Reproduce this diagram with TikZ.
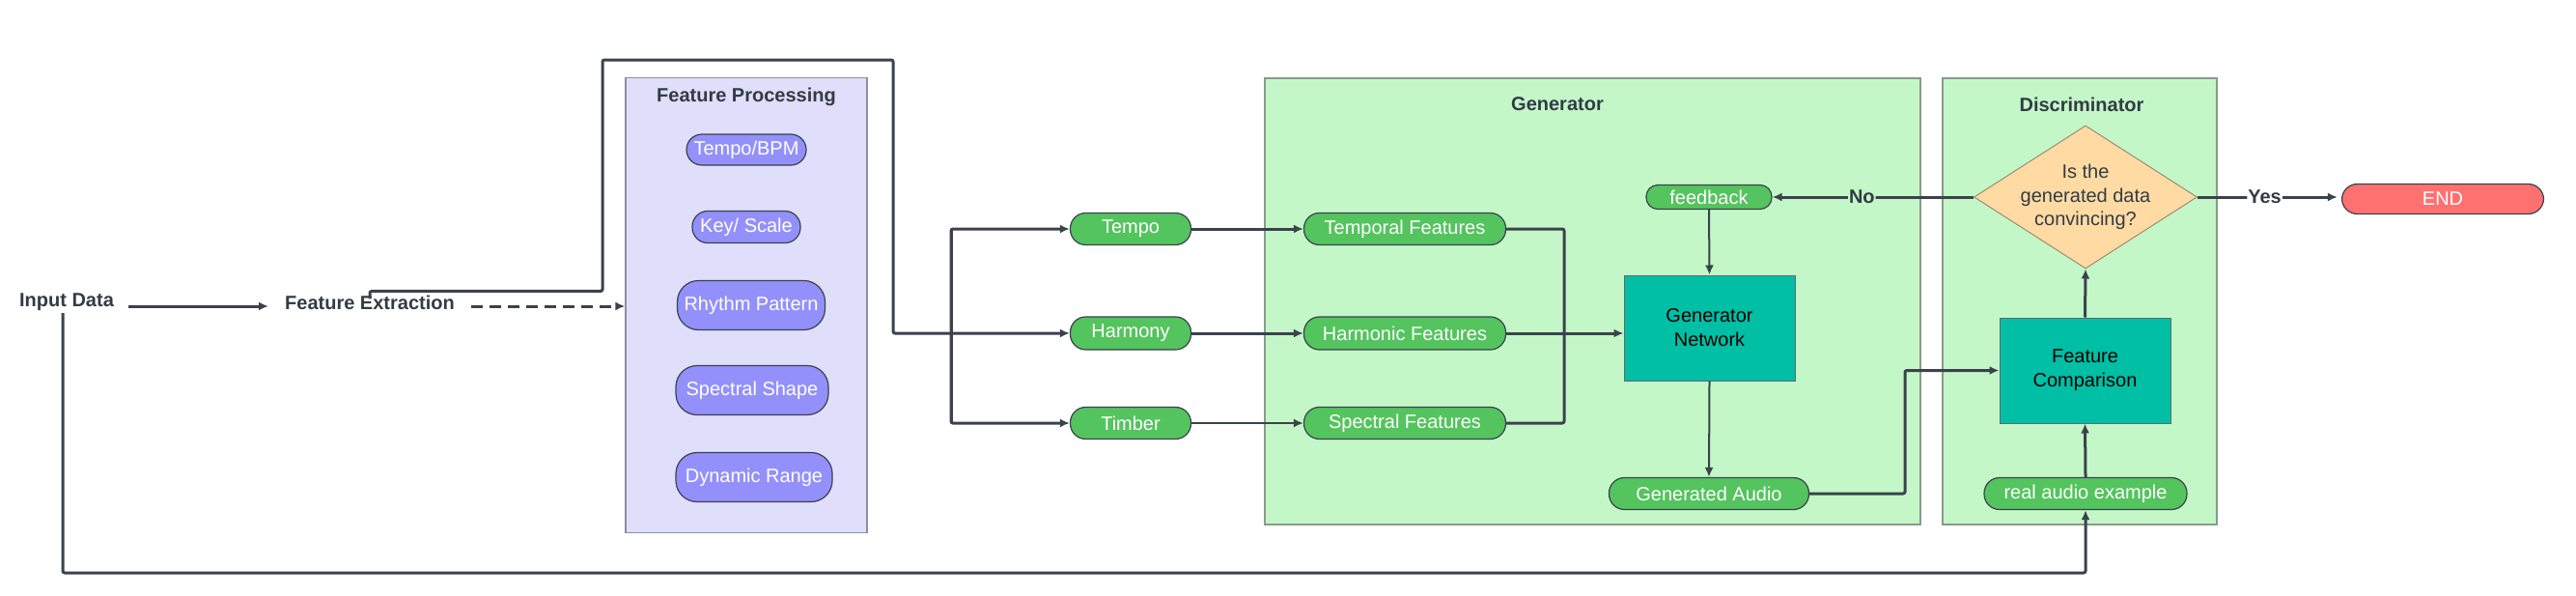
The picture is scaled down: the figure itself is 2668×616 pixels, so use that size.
\documentclass[tikz,border=0pt]{standalone}
\usepackage{fontspec}
\setmainfont{Liberation Sans}
\usetikzlibrary{arrows.meta,shapes.geometric}
\definecolor{ln}{HTML}{3B424C}
\definecolor{fpfill}{HTML}{DFDFFC}
\definecolor{fpborder}{HTML}{8E8E9E}
\definecolor{purp}{HTML}{9390FB}
\definecolor{genfill}{HTML}{C3F7C8}
\definecolor{genborder}{HTML}{8A9A8C}
\definecolor{grn}{HTML}{54C45E}
\definecolor{teal}{HTML}{00BFA5}
\definecolor{dia}{HTML}{FFDBA3}
\definecolor{diaborder}{HTML}{9C8C74}
\definecolor{endc}{HTML}{FF7070}
\definecolor{ttl}{HTML}{333B45}
\tikzset{
  txt/.style={font=\fontsize{20}{24}\selectfont, text=ttl, inner sep=2pt},
  btxt/.style={txt, font=\fontsize{20}{24}\selectfont\bfseries},
  pill/.style={draw=ln, line width=1.2pt, rounded corners=16pt, text=white, inner sep=0pt,
    font=\fontsize{20}{24}\selectfont},
  ppill/.style={pill, fill=purp},
  gpill/.style={pill, fill=grn},
  tbox/.style={draw=ln!80, line width=1pt, fill=teal, text=black, align=center,
    font=\fontsize{20}{25}\selectfont, inner sep=0pt},
  container/.style={line width=1.2pt, inner sep=0pt},
  line/.style={draw=ln, line width=3pt, rounded corners=2pt},
  arr/.style={line, -{Latex[length=10pt,width=9pt]}},
  tarr/.style={arr, line width=2pt},
}
\begin{document}
\begin{tikzpicture}[x=1pt,y=-1pt]
\useasboundingbox[fill=white] (0,0) rectangle (2668,616);
% containers
\node[container, draw=fpborder, fill=fpfill, minimum width=250, minimum height=471] (fp) at (773,316) {};
\node[btxt] (fpt) at (773,100) {Feature Processing};
\node[container, draw=genborder, fill=genfill, minimum width=679, minimum height=462] (gen) at (1649.5,312) {};
\node[btxt] (gent) at (1613,108) {Generator};
\node[container, draw=genborder, fill=genfill, minimum width=284, minimum height=462] (disc) at (2154,312) {};
\node[btxt] (disct) at (2156,108) {Discriminator};
% left text
\node[btxt] (in) at (69,313) {Input Data};
\node[btxt] (fe) at (383,313) {Feature Extraction};
% feature processing pills
\node[ppill, minimum width=124, minimum height=32] (p1) at (773,155) {Tempo/BPM};
\node[ppill, minimum width=112, minimum height=33] (p2) at (773,235) {Key/ Scale};
\node[ppill, minimum width=153, minimum height=51, rounded corners=22pt] (p3) at (778,316) {Rhythm Pattern};
\node[ppill, minimum width=158, minimum height=51, rounded corners=22pt] (p4) at (779,404) {Spectral Shape};
\node[ppill, minimum width=162, minimum height=51, rounded corners=22pt] (p5) at (781,494) {Dynamic Range};
% feature pills
\node[gpill, minimum width=125, minimum height=33] (tempo) at (1171,237) {Tempo};
\node[gpill, minimum width=125, minimum height=34] (harmony) at (1171,345) {Harmony};
\node[gpill, minimum width=125, minimum height=33] (timber) at (1171,438) {Timber};
\node[gpill, minimum width=209, minimum height=33] (tf) at (1455,237) {Temporal Features};
\node[gpill, minimum width=209, minimum height=34] (hf) at (1455,345) {Harmonic Features};
\node[gpill, minimum width=209, minimum height=33] (sf) at (1455,438) {Spectral Features};
% generator
\node[tbox, minimum width=177, minimum height=109] (gn) at (1770.5,339.5) {Generator\\Network};
\node[gpill, minimum width=130, minimum height=25, rounded corners=12pt] (fb) at (1770,204) {feedback};
\node[gpill, minimum width=207, minimum height=33] (ga) at (1770,511) {Generated Audio};
% discriminator
\node[diamond, draw=diaborder, line width=1pt, fill=dia, minimum width=231, minimum height=148, inner sep=0pt] (dm) at (2160,204) {};
\node[txt, align=center, font=\fontsize{20}{24.5}\selectfont, text=ttl] (dmt) at (dm) {Is the\\generated data\\convincing?};
\node[tbox, minimum width=177, minimum height=109] (fc) at (2159.5,383.5) {Feature\\Comparison};
\node[gpill, minimum width=210, minimum height=33] (ra) at (2160,511) {real audio example};
\node[pill, fill=endc, minimum width=209, minimum height=31] (end) at (2530,206) {END};
% coordinates
\coordinate (j1) at (624,62);
\coordinate (j2) at (925,62);
\coordinate (bus) at (985,345);
\coordinate (mg) at (1620,345);
\coordinate (k) at (1973,383.5);
\coordinate (bl) at (65,593);
% connectors
\draw[arr] ([xshift=13pt,yshift=-4pt]in.east) -- ([xshift=-15pt,yshift=-4pt]fe.west);
\draw[arr, dash pattern=on 12pt off 7pt, rounded corners=0pt] ([xshift=15pt,yshift=-4pt]fe.east) -- (fp.west |- 0,317);
\draw[arr] ([yshift=-6pt]fe.north) -- ++(0,-8) -| (j1) -- (j2) |- (harmony.west);
\draw[line] (bus |- tempo.west) -- (bus |- timber.west);
\draw[arr] (bus) |- (tempo.west);
\draw[arr] (bus) |- (timber.west);
\draw[arr] (tempo.east) -- (tf.west);
\draw[arr] (harmony.east) -- (hf.west);
\draw[tarr] (timber.east) -- (sf.west);
\draw[line] (tf.east) -| (mg);
\draw[line] (sf.east) -| (mg);
\draw[arr] (hf.east) -- (gn.west |- hf.east);
\draw[tarr] (fb.south) -- (gn.north);
\draw[tarr] (gn.south) -- (ga.north);
\draw[arr] (ga.east) -| (k) -- (fc.west);
\draw[arr] (fc.north) -- (dm.south);
\draw[arr] (ra.north) -- (fc.south);
\draw[arr] (dm.west) -- node[pos=0.555, fill=genfill, inner sep=1pt, font=\fontsize{20}{24}\selectfont\bfseries, text=ttl] {No} (fb.east);
\draw[arr] (dm.east) -- node[pos=0.48, fill=white, inner sep=1pt, font=\fontsize{20}{24}\selectfont\bfseries, text=ttl] {Yes} ([xshift=-4pt]end.west |- dm.east);
\draw[arr] (in.south -| bl) -- (bl) -| (ra.south);
\end{tikzpicture}
\end{document}
